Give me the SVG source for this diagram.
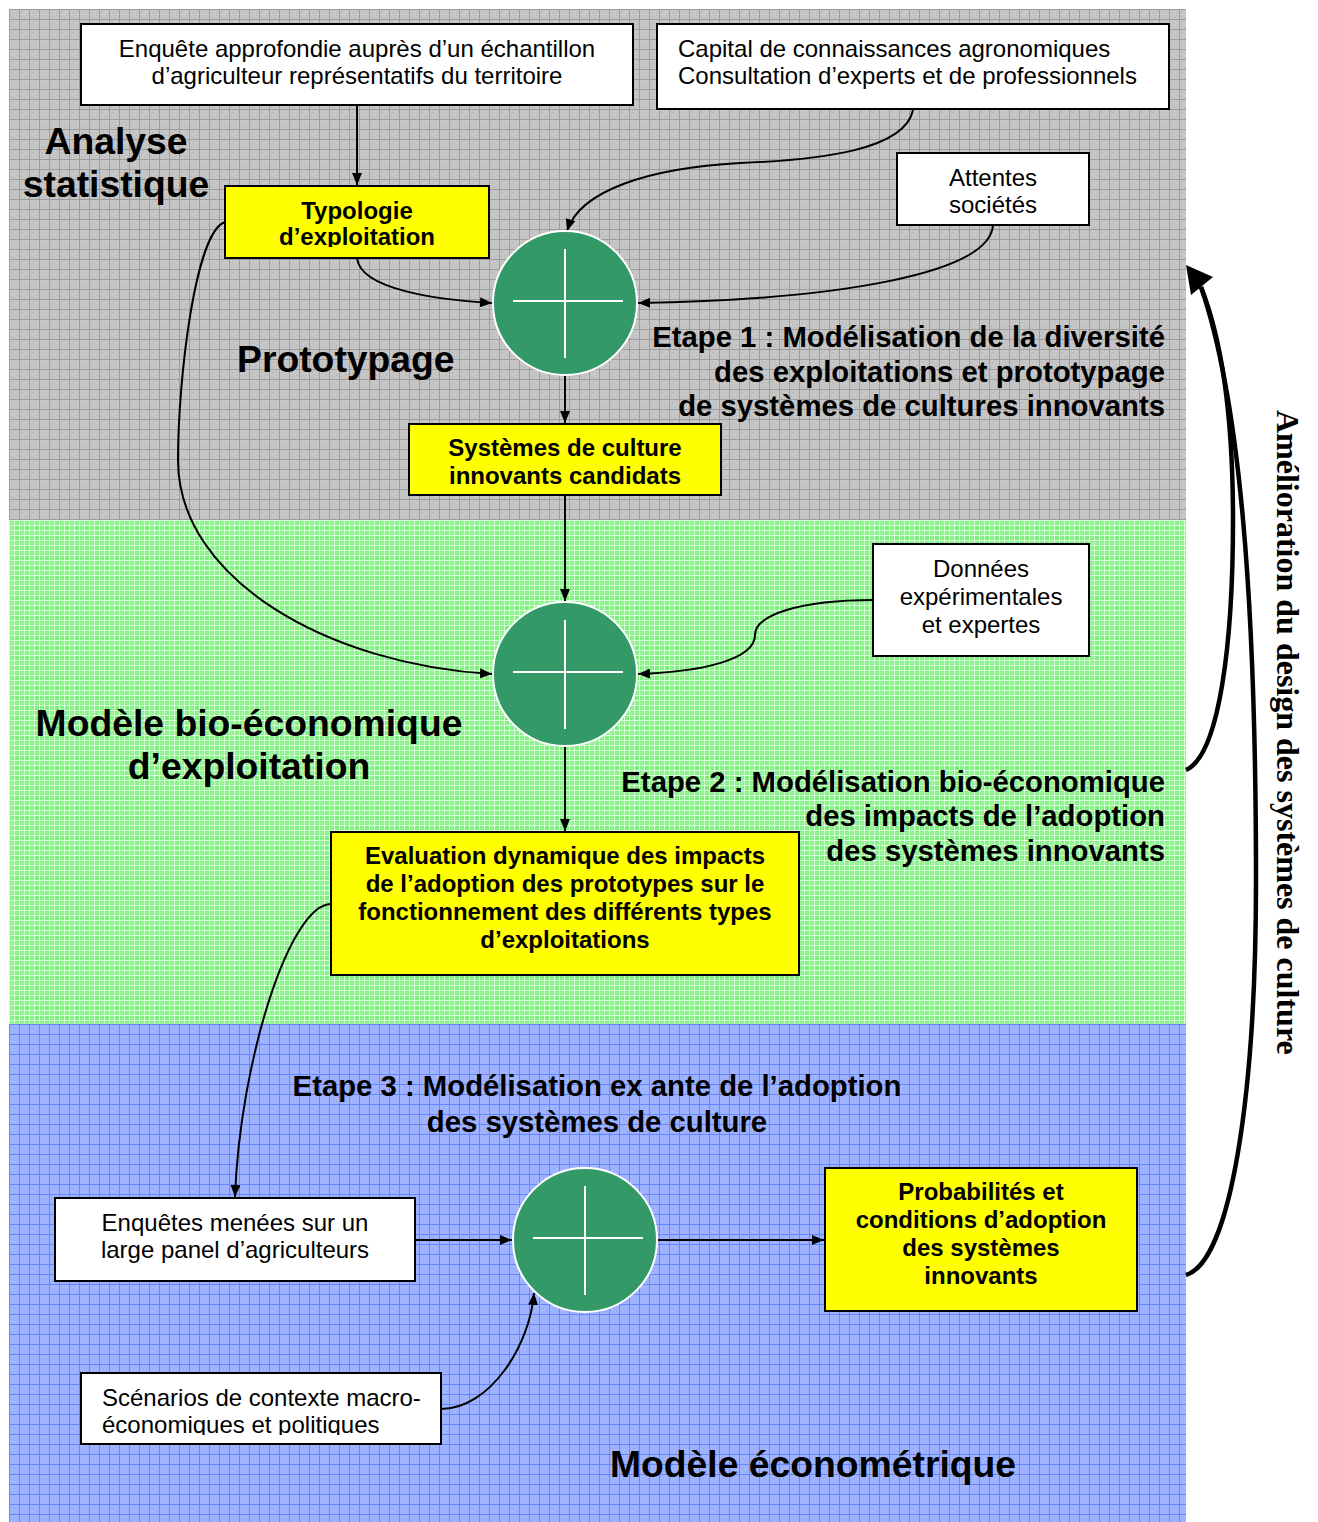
<svg xmlns="http://www.w3.org/2000/svg" width="1318" height="1522" viewBox="0 0 1318 1522">
<defs>
<style>
.box{fill:#ffffff;stroke:#000;stroke-width:2}
.ybox{fill:#ffff00;stroke:#000;stroke-width:2}
.t{font-family:"Liberation Sans",Arial,sans-serif;font-size:24px;fill:#000}
.tb{font-family:"Liberation Sans",Arial,sans-serif;font-size:24px;font-weight:bold;fill:#000}
.big{font-family:"Liberation Sans",Arial,sans-serif;font-size:37.3px;font-weight:bold;fill:#000}
.et{font-family:"Liberation Sans",Arial,sans-serif;font-size:29.3px;font-weight:bold;fill:#000}
.vt{font-family:"Liberation Serif","Times New Roman",serif;font-size:32px;font-weight:bold;fill:#000}
.c{text-anchor:middle}
.r{text-anchor:end}
.hub{fill:#339966;stroke:#ffffff;stroke-width:2}
.cross{stroke:#ffffff;stroke-width:2;fill:none}
.con{fill:none;stroke:#000;stroke-width:2}
.fat{fill:none;stroke:#000;stroke-width:4.5}
</style>
<pattern id="pg" width="10" height="10" patternUnits="userSpaceOnUse" x="9" y="9">
<rect width="10" height="10" fill="#c6c6c6"/>
<path d="M0 0.5H10M0.5 0V10" stroke="#9c9c9c" stroke-width="1"/>
<path d="M3 3h1v1h-1zM7 6h1v1h-1zM5 8h1v1h-1zM2 7h1v1h-1z" fill="#b0b0b0"/>
</pattern>
<pattern id="pgr" width="10" height="10" patternUnits="userSpaceOnUse" x="9" y="520">
<rect width="10" height="10" fill="#7eee7e"/>
<path d="M0 0.5H10M0.5 0V10M0 5.5H10M5.5 0V10" stroke="#dcffdc" stroke-width="1"/>
<path d="M0 3H10M3 0V10" stroke="#aaf6aa" stroke-width="1"/>
</pattern>
<pattern id="pb" width="10" height="10" patternUnits="userSpaceOnUse" x="9" y="1024">
<rect width="10" height="10" fill="#a0b3ff"/>
<path d="M0 0.5H10M0.5 0V10" stroke="#6686ff" stroke-width="1"/>
<path d="M4 4h1v1h-1zM7 7h1v1h-1z" fill="#88a0ff"/>
</pattern>
<marker id="ah" viewBox="0 0 12 10" refX="12" refY="5" markerWidth="12" markerHeight="10" markerUnits="userSpaceOnUse" orient="auto">
<path d="M0,0 L12,5 L0,10 z" fill="#000"/>
</marker>
<clipPath id="clipTypo"><rect x="225" y="186" width="264" height="61"/></clipPath>
<clipPath id="clipScen"><rect x="81" y="1373" width="360" height="62"/></clipPath>
</defs>

<g id="background">
<rect x="9" y="9" width="1177" height="511" fill="url(#pg)"/>
<rect x="9" y="520" width="1177" height="504" fill="url(#pgr)"/>
<rect x="9" y="1024" width="1177" height="498" fill="url(#pb)"/>
</g>

<g id="connectors">
<path class="con" d="M357,105 L357,185" marker-end="url(#ah)"/>
<path class="con" d="M913,110 C905,150 820,160 740,163 C650,168 580,190 567,231" marker-end="url(#ah)"/>
<path class="con" d="M993,225 C990,275 830,300 638,303" marker-end="url(#ah)"/>
<path class="con" d="M357,258 C360,290 440,300 492,303" marker-end="url(#ah)"/>
<path class="con" d="M225,222 C195,232 178,380 178,460 C178,580 330,665 492,674" marker-end="url(#ah)"/>
<path class="con" d="M565,375 L565,423" marker-end="url(#ah)"/>
<path class="con" d="M565,495 L565,601" marker-end="url(#ah)"/>
<path class="con" d="M873,600 C800,600 755,615 755,635 C755,660 700,672 638,674" marker-end="url(#ah)"/>
<path class="con" d="M565,747 L565,831" marker-end="url(#ah)"/>
<path class="con" d="M331,904 C290,904 240,1060 235,1197" marker-end="url(#ah)"/>
<path class="con" d="M415,1240 L512,1240" marker-end="url(#ah)"/>
<path class="con" d="M657,1240 L824,1240" marker-end="url(#ah)"/>
<path class="con" d="M441,1409 C490,1409 530,1345 534,1293" marker-end="url(#ah)"/>
<path class="fat" d="M1186,770 C1220,755 1233,640 1233,520 C1233,420 1222,340 1201,287"/>
<path class="fat" d="M1186,1275 C1230,1262 1256,1100 1256,880 C1256,600 1240,400 1201,287"/>
<polygon points="1186,265 1191,295 1213,277" fill="#000"/>
</g>

<g id="n-enquete">
<rect class="box" x="81" y="24" width="552" height="81"/>
<text class="t c" x="357" y="57">Enquête approfondie auprès d’un échantillon</text>
<text class="t c" x="357" y="84">d’agriculteur représentatifs du territoire</text>
</g>

<g id="n-capital">
<rect class="box" x="657" y="24" width="512" height="85"/>
<text class="t" x="678" y="57">Capital de connaissances agronomiques</text>
<text class="t" x="678" y="84">Consultation d’experts et de professionnels</text>
</g>

<g id="n-typologie">
<rect class="ybox" x="225" y="186" width="264" height="72"/>
<g clip-path="url(#clipTypo)">
<text class="tb c" x="357" y="219">Typologie</text>
<text class="tb c" x="357" y="245">d’exploitation</text>
</g>
</g>

<g id="n-attentes">
<rect class="box" x="897" y="153" width="192" height="72"/>
<text class="t c" x="993" y="186">Attentes</text>
<text class="t c" x="993" y="213">sociétés</text>
</g>

<g id="n-hub1">
<circle class="hub" cx="565" cy="303" r="72"/>
<path class="cross" d="M513,301 H623 M565,249 V358"/>
</g>

<g id="n-systemes">
<rect class="ybox" x="409" y="424" width="312" height="71"/>
<text class="tb c" x="565" y="456">Systèmes de culture</text>
<text class="tb c" x="565" y="484">innovants candidats</text>
</g>

<g id="n-hub2">
<circle class="hub" cx="565" cy="674" r="72"/>
<path class="cross" d="M513,672 H623 M565,620 V729"/>
</g>

<g id="n-donnees">
<rect class="box" x="873" y="544" width="216" height="112"/>
<text class="t c" x="981" y="577">Données</text>
<text class="t c" x="981" y="605">expérimentales</text>
<text class="t c" x="981" y="633">et expertes</text>
</g>

<g id="n-evaluation">
<rect class="ybox" x="331" y="832" width="468" height="143"/>
<text class="tb c" x="565" y="864">Evaluation dynamique des impacts</text>
<text class="tb c" x="565" y="892">de l’adoption des prototypes sur le</text>
<text class="tb c" x="565" y="920">fonctionnement des différents types</text>
<text class="tb c" x="565" y="948">d’exploitations</text>
</g>

<g id="n-enquetes">
<rect class="box" x="55" y="1198" width="360" height="83"/>
<text class="t c" x="235" y="1231">Enquêtes menées sur un</text>
<text class="t c" x="235" y="1258">large panel d’agriculteurs</text>
</g>

<g id="n-hub3">
<circle class="hub" cx="585" cy="1240" r="72"/>
<path class="cross" d="M533,1238 H643 M585,1186 V1295"/>
</g>

<g id="n-probabilites">
<rect class="ybox" x="825" y="1168" width="312" height="143"/>
<text class="tb c" x="981" y="1200">Probabilités et</text>
<text class="tb c" x="981" y="1228">conditions d’adoption</text>
<text class="tb c" x="981" y="1256">des systèmes</text>
<text class="tb c" x="981" y="1284">innovants</text>
</g>

<g id="n-scenarios">
<rect class="box" x="81" y="1373" width="360" height="71"/>
<g clip-path="url(#clipScen)">
<text class="t" x="102" y="1406">Scénarios de contexte macro-</text>
<text class="t" x="102" y="1433">économiques et politiques</text>
</g>
</g>

<g id="labels">
<text class="big c" x="116" y="154">Analyse</text>
<text class="big c" x="116" y="197">statistique</text>
<text class="big" x="237" y="372">Prototypage</text>
<text class="et r" x="1165" y="347">Etape 1 : Modélisation de la diversité</text>
<text class="et r" x="1165" y="382">des exploitations et prototypage</text>
<text class="et r" x="1165" y="416">de systèmes de cultures innovants</text>
<text class="big c" x="249" y="736">Modèle bio-économique</text>
<text class="big c" x="249" y="779">d’exploitation</text>
<text class="et r" x="1165" y="792">Etape 2 : Modélisation bio-économique</text>
<text class="et r" x="1165" y="826">des impacts de l’adoption</text>
<text class="et r" x="1165" y="861">des systèmes innovants</text>
<text class="et c" x="597" y="1096">Etape 3 : Modélisation ex ante de l’adoption</text>
<text class="et c" x="597" y="1132">des systèmes de culture</text>
<text class="big c" x="813" y="1477">Modèle économétrique</text>
<text class="vt" x="1277" y="410" transform="rotate(90 1277 410)">Amélioration du design des systèmes de culture</text>
</g>
</svg>
